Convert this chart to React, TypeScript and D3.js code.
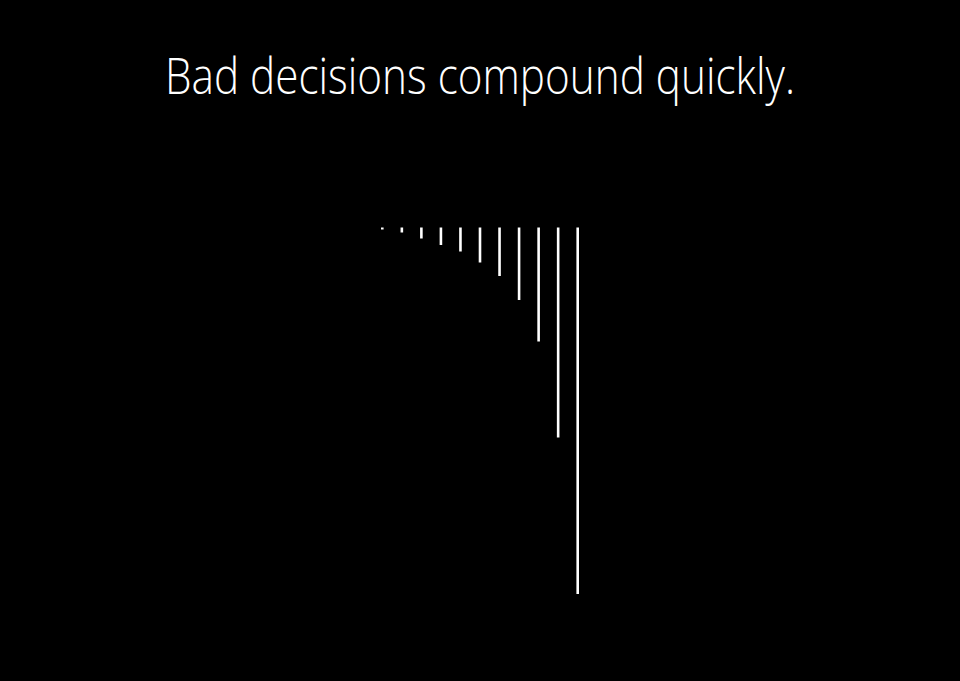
import { useEffect, useRef } from 'react'
import * as d3 from 'd3'

const title = 'Bad decisions compound quickly.'
const steps = ['1', '2', '3', '4', '5', '6', '7', '8', '9', '10', '11']
const costs = [2, 5, 11, 17.5, 24, 35, 48.5, 72.5, 114, 210, 366.5]

const W = 960
const H = 681

export default function App() {
  const svgRef = useRef<SVGSVGElement>(null)

  useEffect(() => {
    if (!svgRef.current) return
    const svg = d3.select(svgRef.current)
    svg.selectAll('*').remove()

    svg.append('rect').attr('width', W).attr('height', H).attr('fill', '#000')

    svg.append('text')
      .attr('x', 480)
      .attr('y', 94)
      .attr('text-anchor', 'middle')
      .attr('font-family', '"Open Sans", sans-serif')
      .attr('font-weight', 300)
      .attr('font-size', 50)
      .attr('fill', '#fff')
      .attr('textLength', 630)
      .attr('lengthAdjust', 'spacingAndGlyphs')
      .text(title)

    const x = d3.scalePoint<string>().domain(steps).range([382.3, 577.7])
    const y = d3.scaleLinear().domain([0, 366.5]).range([227.5, 594])

    svg.append('g')
      .selectAll('line')
      .data(costs)
      .join('line')
      .attr('x1', (_, i) => x(steps[i])!)
      .attr('x2', (_, i) => x(steps[i])!)
      .attr('y1', y(0))
      .attr('y2', d => y(d))
      .attr('stroke', '#fff')
      .attr('stroke-width', 2.6)
  }, [])

  return (
    <svg
      ref={svgRef}
      width={W}
      height={H}
      style={{ position: 'fixed', left: 0, top: 0, display: 'block' }}
    />
  )
}
